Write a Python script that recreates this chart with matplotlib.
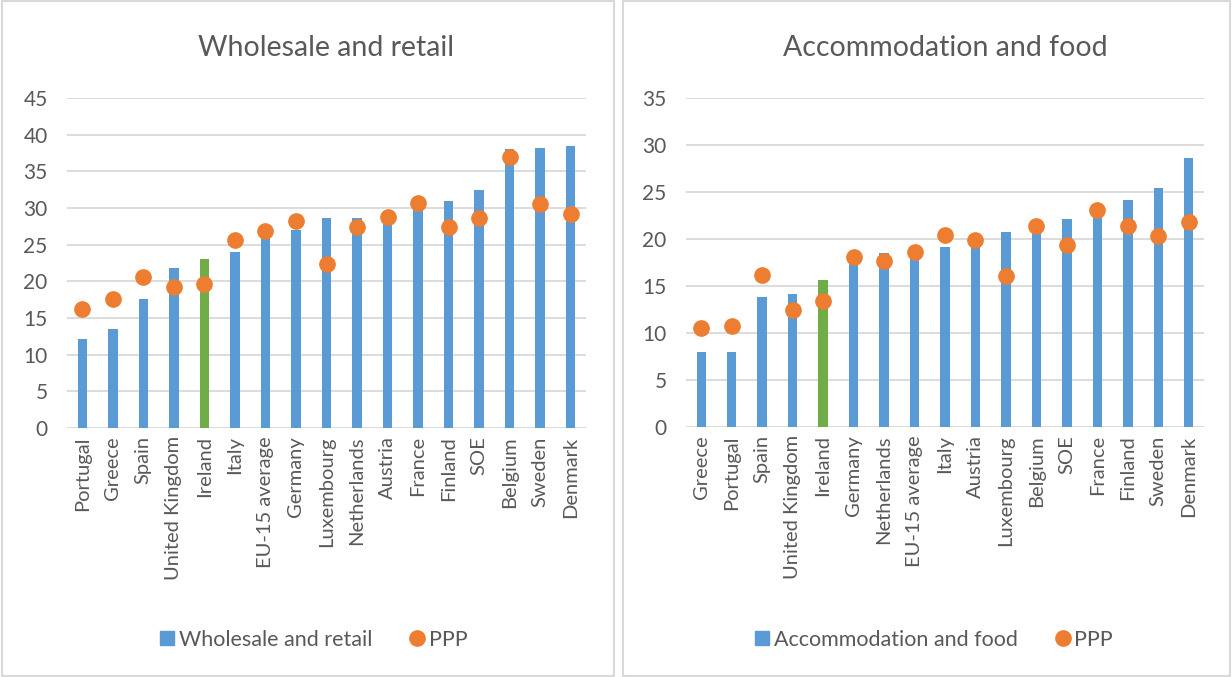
import matplotlib.pyplot as plt
from matplotlib.lines import Line2D
from matplotlib.patches import Rectangle

# left panel data
countries_wr = ["Portugal", "Greece", "Spain", "United Kingdom", "Ireland", "Italy",
                "EU-15 average", "Germany", "Luxembourg", "Netherlands", "Austria",
                "France", "Finland", "SOE", "Belgium", "Sweden", "Denmark"]
wholesale = [12.2, 13.5, 17.6, 21.8, 23.0, 24.0, 26.5, 27.0, 28.7, 28.7, 28.5,
             30.1, 31.0, 32.5, 38.1, 38.2, 38.4]
ppp_wr = [16.2, 17.6, 20.6, 19.2, 19.6, 25.6, 26.8, 28.2, 22.3, 27.4, 28.8,
          30.7, 27.4, 28.6, 37.0, 30.5, 29.2]

# right panel data
countries_af = ["Greece", "Portugal", "Spain", "United Kingdom", "Ireland", "Germany",
                "Netherlands", "EU-15 average", "Italy", "Austria", "Luxembourg",
                "Belgium", "SOE", "France", "Finland", "Sweden", "Denmark"]
accommodation = [8.0, 8.0, 13.8, 14.1, 15.6, 17.5, 18.5, 18.5, 19.1, 19.7, 20.7,
                 21.0, 22.1, 22.9, 24.2, 25.4, 28.6]
ppp_af = [10.5, 10.7, 16.2, 12.4, 13.4, 18.1, 17.7, 18.6, 20.4, 19.9, 16.1,
          21.4, 19.4, 23.1, 21.4, 20.3, 21.8]

BLUE = "#5B9BD5"
ORANGE = "#ED7D31"
GREEN = "#70AD47"
GRID = "#D9D9D9"
TXT = "#595959"

plt.rcParams['font.family'] = ['Lato', 'DejaVu Sans']

W, H = 1232, 677
fig = plt.figure(figsize=(W / 100, H / 100), dpi=100)


def px_axes(x0, y0, x1, y1):
    # pixel box (top-left origin) -> figure fraction
    return fig.add_axes([x0 / W, 1 - y1 / H, (x1 - x0) / W, (y1 - y0) / H])


def draw_panel(ax, cats, bars, ppp, title, label, ymax, legx):
    x = range(len(cats))
    colors = [GREEN if c == "Ireland" else BLUE for c in cats]
    ax.bar(x, bars, width=0.31, color=colors, zorder=2)
    ax.plot(x, ppp, 'o', color=ORANGE, markersize=11, zorder=3)
    ax.set_xlim(-0.5, len(cats) - 0.5)
    ax.set_ylim(0, ymax)
    ax.set_yticks(range(0, ymax + 1, 5))
    ax.set_xticks(list(x))
    ax.set_xticklabels(cats, rotation=90, fontsize=14.5, color=TXT)
    ax.tick_params(axis='y', labelsize=15, labelcolor=TXT, length=0, pad=14)
    ax.tick_params(axis='x', length=0, pad=6)
    ax.grid(axis='y', color=GRID, linewidth=1.3, zorder=0)
    for s in ax.spines.values():
        s.set_visible(False)
    ax.set_title(title, fontsize=20.5, color=TXT, pad=30)
    handles = [Line2D([], [], marker='s', linestyle='none', color=BLUE, markersize=10),
               Line2D([], [], marker='o', linestyle='none', color=ORANGE, markersize=11)]
    fig.legend(handles, [label, "PPP"], loc='center', bbox_to_anchor=(legx / W, 1 - 640 / H),
               ncol=2, frameon=False, fontsize=15.5, labelcolor=TXT,
               handletextpad=0.05, columnspacing=1.6, handlelength=1.0)


ax1 = px_axes(67, 98, 586, 428)
draw_panel(ax1, countries_wr, wholesale, ppp_wr, "Wholesale and retail",
           "Wholesale and retail", 45, 312)

ax2 = px_axes(686, 98, 1204, 427)
draw_panel(ax2, countries_af, accommodation, ppp_af, "Accommodation and food",
           "Accommodation and food", 35, 932)

# panel borders
for x0, x1 in [(2, 614), (623, 1230)]:
    fig.patches.append(Rectangle((x0 / W, 0.002), (x1 - x0) / W, 0.996,
                                 transform=fig.transFigure, fill=False,
                                 edgecolor=GRID, linewidth=1.5))

fig.savefig("out.png", dpi=100)
